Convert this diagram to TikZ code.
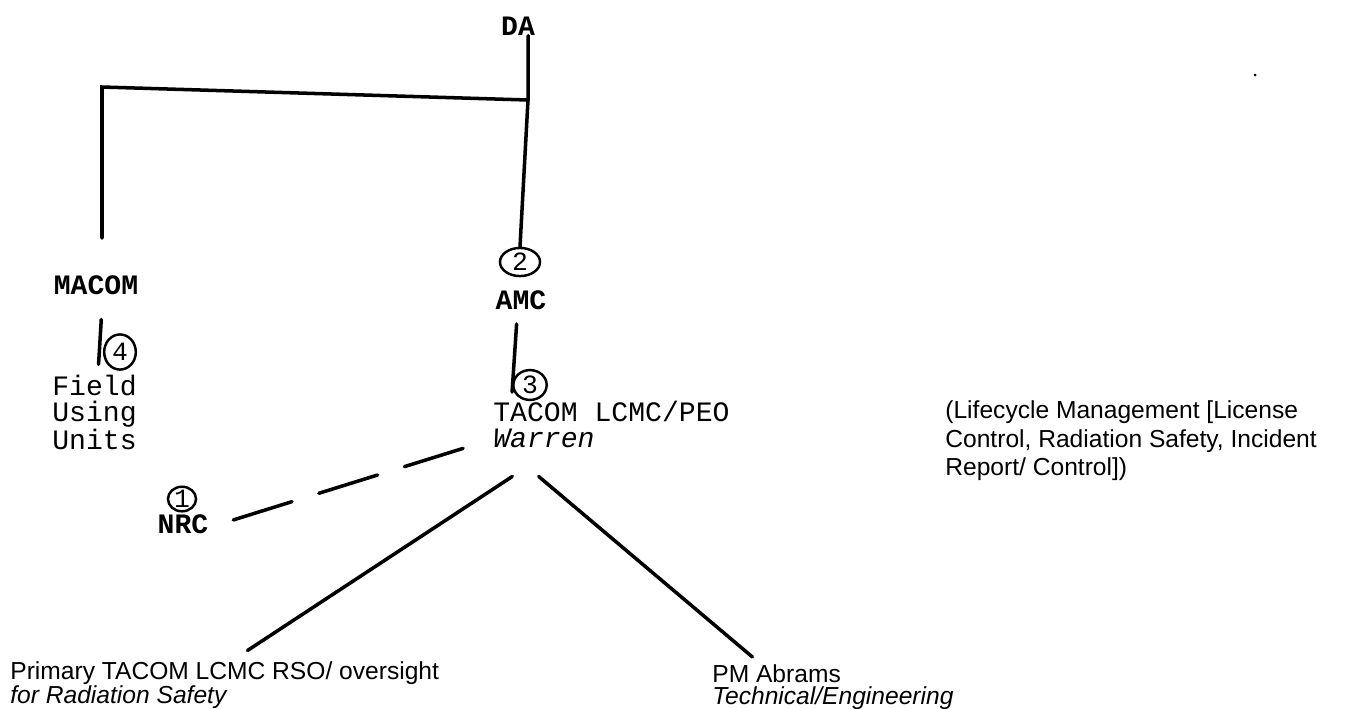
\documentclass[tikz,border=0pt]{standalone}
\usepackage{fontspec}
\setmainfont{Liberation Sans}
\setmonofont{Liberation Mono}
\usetikzlibrary{shapes.geometric}
\begin{document}
\begin{tikzpicture}[x=0.02cm,y=-0.02cm,
    typed/.style={font=\fontsize{16}{14.8}\selectfont\ttfamily,inner sep=0pt},
    heavy/.style={typed,font=\fontsize{16}{14.8}\selectfont\ttfamily\bfseries},
    typedblock/.style={typed,anchor=north west,align=left},
    printed/.style={font=\fontsize{14}{16.4}\selectfont,inner sep=0pt,anchor=north west,align=left},
    num/.style={ellipse,draw,line width=1.4pt,inner sep=0pt,minimum width=#1,font=\fontsize{15}{15}\selectfont\ttfamily},
    link/.style={line width=2pt,line cap=round}]
  \useasboundingbox (0,0) rectangle (1345,708);
  \draw
    (518,26) node[heavy] (da){DA}
    (96,285) node[heavy] (macom){MACOM}
    (520,262) node[num=22.8pt,minimum height=16pt] (n2){2}
    (521,300) node[heavy] (amc){AMC}
    (120,352) node[num=18pt,minimum height=20pt] (n4){4}
    (52,375) node[typedblock] (field){Field\\Using\\Units}
    (530,385) node[num=19pt,minimum height=17pt] (n3){3}
    (493,401) node[typedblock] (tacom){TACOM LCMC/PEO\\\textit{Warren}}
    (182,499) node[num=16pt,minimum height=14pt] (n1){1}
    (183,524) node[heavy] (nrc){NRC}
    (945,400) node[printed] (role){(Lifecycle Management [License\\Control, Radiation Safety, Incident\\Report/ Control])}
    (10,661) node[printed,font=\fontsize{14}{14}\selectfont] (rso){Primary TACOM LCMC RSO/ oversight\\\textit{for Radiation Safety}}
    (712,664) node[printed,font=\fontsize{14}{12.8}\selectfont] (pm){PM Abrams\\\textit{Technical/Engineering}};
  \coordinate (tee) at (528,100);
  \coordinate (corner) at (102,87);
  \coordinate (macomtop) at (102,238);
  \fill (1255,75) circle (1.5);
  \begin{scope}[link]
    \draw ([xshift=-4pt]da.south east) to (tee) to (n2.north);
    \draw (tee) to (corner) to (macomtop);
    \draw ([xshift=3pt,yshift=-14pt]macom.south) to ([xshift=-2.5pt,yshift=-7pt]n4.west);
    \draw ([xshift=-2.5pt,yshift=-8pt]amc.south) to ([yshift=-4pt]n3.west);
    \draw[dash pattern=on 35pt off 16pt] ([xshift=-17pt]tacom.south west) to ([xshift=13pt,yshift=2pt]nrc.east);
    \draw ([xshift=11pt,yshift=-16pt]tacom.south west) to ([xshift=13pt,yshift=6pt]rso.north);
    \draw ([xshift=26pt,yshift=-16pt]tacom.south west) to ([xshift=23pt,yshift=4pt]pm.north west);
  \end{scope}
\end{tikzpicture}
\end{document}
